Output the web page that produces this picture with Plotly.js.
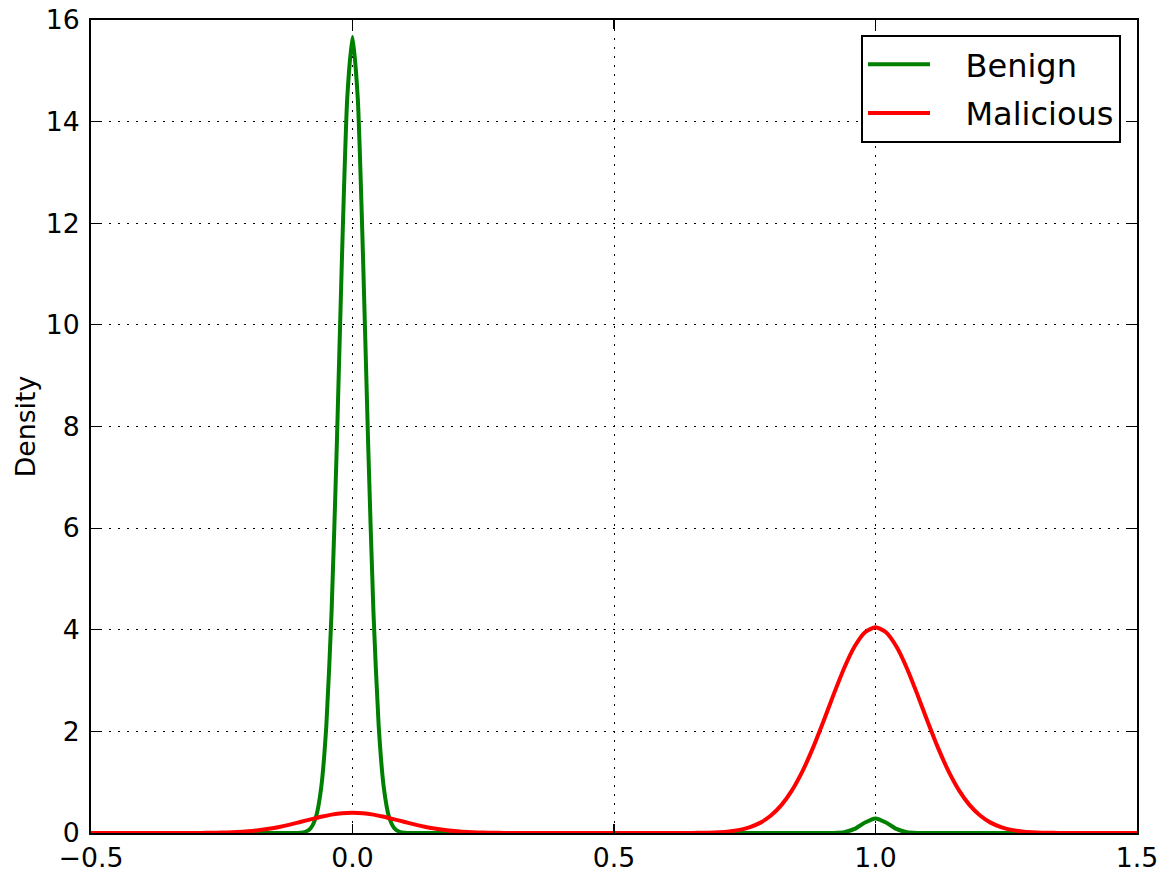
<!DOCTYPE html>
<html>
<head>
<meta charset="utf-8">
<script src="https://cdn.plot.ly/plotly-3.0.1.min.js"></script>
<style>
  html, body { margin: 0; padding: 0; background: #ffffff; }
  #chart { width: 1170px; height: 872px; }
</style>
</head>
<body>
<div id="chart"></div>
<script>
// Series names
const seriesNames = ["Benign", "Malicious"];

// Benign density curve
const benignX = [-0.5, -0.15, -0.12, -0.10, -0.09, -0.08, -0.07, -0.06, -0.05, -0.04, -0.03, -0.02, -0.01,
  0.00, 0.01, 0.02, 0.03, 0.04, 0.05, 0.06, 0.07, 0.08, 0.09, 0.10, 0.12, 0.15,
  0.85, 0.90, 0.92, 0.94, 0.96, 0.98, 1.00, 1.02, 1.04, 1.06, 1.08, 1.10, 1.15, 1.5];
const benignY = [0, 0, 0, 0.005, 0.024, 0.094, 0.31, 0.88, 2.12, 4.36, 7.63, 11.38, 14.47,
  15.67, 14.47, 11.38, 7.63, 4.36, 2.12, 0.88, 0.31, 0.094, 0.024, 0.005, 0, 0,
  0, 0, 0.002, 0.016, 0.080, 0.208, 0.287, 0.208, 0.080, 0.016, 0.002, 0, 0, 0];

// Malicious density curve
const maliciousX = [-0.5, -0.4, -0.36, -0.34, -0.32, -0.30, -0.28, -0.26, -0.24, -0.22, -0.20, -0.18, -0.16,
  -0.14, -0.12, -0.10, -0.08, -0.06, -0.04, -0.02, 0.00, 0.02, 0.04, 0.06, 0.08, 0.10, 0.12, 0.14,
  0.16, 0.18, 0.20, 0.22, 0.24, 0.26, 0.28, 0.30, 0.32, 0.34, 0.36, 0.40, 0.5, 0.6,
  0.64, 0.66, 0.68, 0.70, 0.72, 0.74, 0.76, 0.78, 0.80, 0.82, 0.84, 0.86, 0.88, 0.90, 0.92, 0.94,
  0.96, 0.98, 1.00, 1.02, 1.04, 1.06, 1.08, 1.10, 1.12, 1.14, 1.16, 1.18, 1.20, 1.22, 1.24, 1.26,
  1.28, 1.30, 1.32, 1.34, 1.36, 1.40, 1.5];
const maliciousY = [0, 0, 0.0001, 0.0003, 0.0007, 0.0015, 0.003, 0.006, 0.011, 0.020, 0.034, 0.054, 0.082,
  0.119, 0.164, 0.216, 0.269, 0.320, 0.362, 0.390, 0.400, 0.390, 0.362, 0.320, 0.269, 0.216, 0.164, 0.119,
  0.082, 0.054, 0.034, 0.020, 0.011, 0.006, 0.003, 0.0015, 0.0007, 0.0003, 0.0001, 0, 0, 0,
  0.001, 0.003, 0.007, 0.016, 0.032, 0.062, 0.116, 0.204, 0.343, 0.548, 0.834, 1.208, 1.665, 2.185, 2.728, 3.243,
  3.669, 3.951, 4.050, 3.951, 3.669, 3.243, 2.728, 2.185, 1.665, 1.208, 0.834, 0.548, 0.343, 0.204, 0.116, 0.062,
  0.032, 0.016, 0.007, 0.003, 0.001, 0, 0];

// Tick labels
const xTickVals = [-0.5, 0.0, 0.5, 1.0, 1.5];
const xTickText = ["\u22120.5", "0.0", "0.5", "1.0", "1.5"];
const yTickVals = [0, 2, 4, 6, 8, 10, 12, 14, 16];
const yTickText = ["0", "2", "4", "6", "8", "10", "12", "14", "16"];
const yTitle = "Density";

const FONT = "DejaVu Sans, Liberation Sans, sans-serif";
// visual gap between legend line sample and its label
const LEGEND_PAD = "\u00a0\u00a0\u00a0";

const traces = [
  {
    x: benignX, y: benignY, name: LEGEND_PAD + seriesNames[0], type: "scatter", mode: "lines",
    line: { color: "#008000", width: 4, shape: "spline", smoothing: 0.6 },
    legendgroup: "a", hoverinfo: "x+y"
  },
  {
    x: maliciousX, y: maliciousY, name: LEGEND_PAD + seriesNames[1], type: "scatter", mode: "lines",
    line: { color: "#ff0000", width: 4, shape: "spline", smoothing: 0.6 },
    legendgroup: "b", hoverinfo: "x+y"
  }
];

const axisCommon = {
  showline: true, linecolor: "#000000", linewidth: 2, mirror: "ticks",
  ticks: "inside", ticklen: 9, tickwidth: 1.2, tickcolor: "#000000",
  showgrid: true, gridcolor: "#000000", gridwidth: 1, griddash: "2px,7px",
  zeroline: false, tickfont: { family: FONT, size: 26.7, color: "#000000" },
  tickmode: "array"
};

const layout = {
  width: 1170, height: 872,
  margin: { l: 91, r: 33, t: 20, b: 39, pad: 0 },
  paper_bgcolor: "#ffffff", plot_bgcolor: "#ffffff",
  font: { family: FONT, color: "#000000" },
  showlegend: true,
  xaxis: Object.assign({}, axisCommon, {
    range: [-0.5, 1.5], tickvals: xTickVals, ticktext: xTickText,
    ticklabelstandoff: 0
  }),
  yaxis: Object.assign({}, axisCommon, {
    range: [0, 16], tickvals: yTickVals, ticktext: yTickText,
    ticklabelstandoff: 4,
    title: { text: yTitle, font: { family: FONT, size: 26.7, color: "#000000" }, standoff: 2 }
  }),
  legend: {
    x: 0.9847, y: 0.9815, xanchor: "right", yanchor: "top",
    bgcolor: "#ffffff", bordercolor: "#000000", borderwidth: 2,
    font: { family: FONT, size: 32, color: "#000000" },
    traceorder: "grouped", tracegroupgap: 4, itemwidth: 62
  }
};

Plotly.newPlot("chart", traces, layout, { staticPlot: true, displayModeBar: false });
</script>
</body>
</html>
